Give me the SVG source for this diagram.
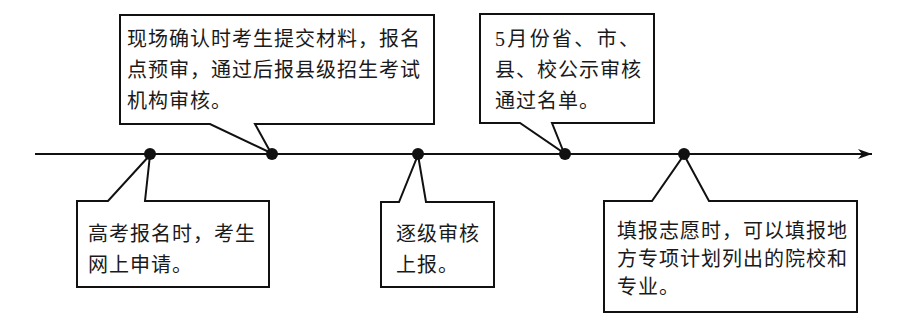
<svg xmlns="http://www.w3.org/2000/svg" width="900" height="322" viewBox="0 0 900 322">
<style>
.c{fill:#fff;stroke:#111;stroke-width:2;stroke-linejoin:miter}
.t{font-family:"Liberation Serif","Noto Sans CJK SC",serif;font-size:20px;fill:#1a1a1a;letter-spacing:1px}
.d{fill:#111}
</style>
<defs>
<marker id="ah" markerWidth="16" markerHeight="12" refX="14" refY="6" orient="auto" markerUnits="userSpaceOnUse">
<path d="M0,1 L14,6 L0,11 L4,6 Z" fill="#111"/>
</marker>
</defs>
<rect width="900" height="322" fill="#fff"/>
<g id="connectors">
<line x1="35" y1="154" x2="872" y2="154" stroke="#111" stroke-width="2" marker-end="url(#ah)"/>
</g>
<g id="n1">
<path class="c" d="M77,201 H108 L150,155 L145,201 H269 V287 H77 Z"/>
<text class="t" x="88" y="241">高考报名时，考生</text>
<text class="t" x="88" y="272">网上申请。</text>
<circle class="d" cx="150" cy="154" r="6"/>
</g>
<g id="n2">
<path class="c" d="M120,15 H434 V124 H255 L271,153 L210,124 H120 Z"/>
<text class="t" x="127" y="46">现场确认时考生提交材料，报名</text>
<text class="t" x="127" y="77">点预审，通过后报县级招生考试</text>
<text class="t" x="127" y="108">机构审核。</text>
<circle class="d" cx="272" cy="154" r="6"/>
</g>
<g id="n3">
<path class="c" d="M381,202 H399 L418,155 L426,202 H494 V287 H381 Z"/>
<text class="t" x="396" y="241">逐级审核</text>
<text class="t" x="396" y="272">上报。</text>
<circle class="d" cx="418" cy="154" r="6"/>
</g>
<g id="n4">
<path class="c" d="M480,14 H654 V123 H552 L564,153 L520,123 H480 Z"/>
<text class="t" x="495" y="46" textLength="145" lengthAdjust="spacing">5月份省、市、</text>
<text class="t" x="495" y="77">县、校公示审核</text>
<text class="t" x="495" y="108">通过名单。</text>
<circle class="d" cx="565" cy="154" r="6"/>
</g>
<g id="n5">
<path class="c" d="M604,201 H652 L684,155 L709,201 H857 V312 H604 Z"/>
<text class="t" x="617" y="238">填报志愿时，可以填报地</text>
<text class="t" x="617" y="266">方专项计划列出的院校和</text>
<text class="t" x="617" y="294">专业。</text>
<circle class="d" cx="684" cy="154" r="6"/>
</g>
</svg>
